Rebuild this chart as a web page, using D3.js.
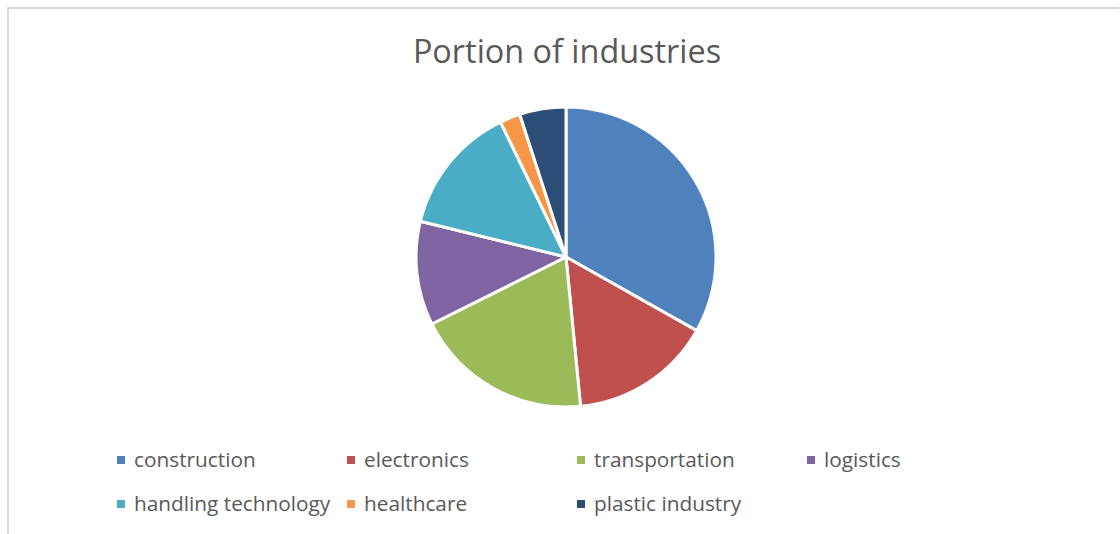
<!DOCTYPE html>
<html>
<head>
<meta charset="utf-8">
<script src="https://cdn.jsdelivr.net/npm/d3@7"></script>
<style>
html,body{margin:0;padding:0;background:#fff;}
svg{display:block;}
</style>
</head>
<body>
<svg id="chart" width="1120" height="534"></svg>
<script>
const categories = ["construction","electronics","transportation","logistics","handling technology","healthcare","plastic industry"];
const values = [33.2, 15.3, 19.2, 11.2, 14.0, 2.2, 5.0];
const colors = ["#4F81BD","#C0504D","#9BBB59","#8064A2","#4BACC6","#F79646","#2C4D75"];
const title = "Portion of industries";

const svg = d3.select("#chart");
const W = 1120, H = 534;
const font = "'Open Sans', 'Noto Sans', sans-serif";

// chart frame
svg.append("path")
  .attr("d", `M8,${H} L8,8 L1119,8`)
  .attr("fill","none").attr("stroke","#d9d9d9").attr("stroke-width",2);

svg.append("text")
  .attr("x", 567).attr("y", 63)
  .attr("text-anchor","middle")
  .attr("font-family", font).attr("font-size", 32.4)
  .attr("fill","#595959")
  .text(title);

const data = categories.map((c,i)=>({name:c, value:values[i], color:colors[i]}));
const pie = d3.pie().sort(null).value(d=>d.value);
const arc = d3.arc().innerRadius(0).outerRadius(150);
const g = svg.append("g").attr("transform","translate(566,257)");
g.selectAll("path").data(pie(data)).join("path")
  .attr("d", arc)
  .attr("fill", d=>d.data.color)
  .attr("stroke","#fff").attr("stroke-width",3).attr("stroke-linejoin","round");

// legend
const colX = d3.scaleBand().domain(d3.range(4)).range([117, 117+230*4]);
const rowY = d3.scalePoint().domain([0,1]).range([460, 504]);
const leg = svg.append("g");
data.forEach((d,i)=>{
  const col = i % 4, row = Math.floor(i/4);
  const x = colX(col), y = rowY(row);
  leg.append("rect").attr("x", x).attr("y", y-4).attr("width",8).attr("height",8).attr("fill", d.color);
  leg.append("text").attr("x", x+17).attr("y", y).attr("dy","0.35em")
    .attr("font-family", font).attr("font-size", 20.8).attr("fill","#595959")
    .text(d.name);
});
</script>
</body>
</html>
